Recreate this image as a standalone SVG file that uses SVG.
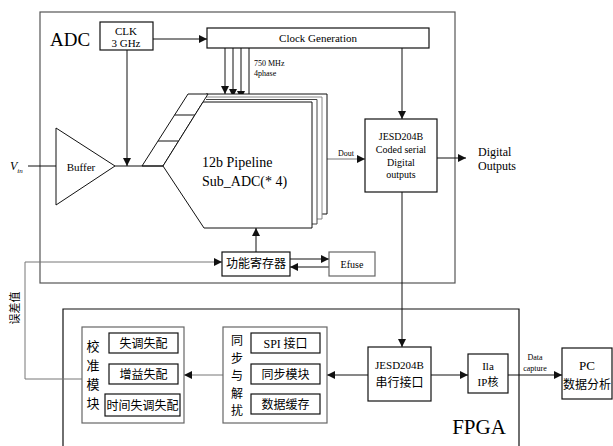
<svg xmlns="http://www.w3.org/2000/svg" width="613" height="446" viewBox="0 0 613 446">
<style>
.box{fill:#fff;stroke:#111;stroke-width:1.2}
.gbox{fill:#fff;stroke:#666;stroke-width:1.2}
.ln{fill:none;stroke:#111;stroke-width:1}
.gln{fill:none;stroke:#777;stroke-width:1}
.t{font-family:"Liberation Serif","Noto Sans CJK SC",serif;fill:#000;text-anchor:middle}
.c{font-family:"Noto Sans CJK SC","Liberation Serif",sans-serif;fill:#000;text-anchor:middle}
</style>
<defs>
<marker id="arr" viewBox="0 0 10 10" refX="10" refY="5" markerWidth="9" markerHeight="8" markerUnits="userSpaceOnUse" orient="auto">
<path d="M0,0 L10,5 L0,10 z" fill="#111"/>
</marker>
</defs>
<rect width="613" height="446" fill="#fff"/>

<g id="adc">
<rect x="40" y="12" width="415" height="271" fill="none" stroke="#555" stroke-width="1.2"/>
<text class="t" x="50" y="46" font-size="19" style="text-anchor:start">ADC</text>
</g>
<g id="fpga">
<path d="M63,446 V309 H519 V446" fill="none" stroke="#111" stroke-width="1.2"/>
<text class="t" x="479" y="434" font-size="21">FPGA</text>
</g>

<g id="connectors">
<path class="ln" d="M153,39 H207" marker-end="url(#arr)"/>
<path class="ln" d="M127,50 V166" marker-end="url(#arr)"/>
<path class="ln" d="M28,166 H56"/>
<path class="ln" d="M115,166 H140"/>
<path class="ln" d="M225,48 V94" marker-end="url(#arr)"/>
<path class="ln" d="M233,48 V97" marker-end="url(#arr)"/>
<path class="ln" d="M241,48 V99" marker-end="url(#arr)"/>
<path class="ln" d="M249,48 V102" marker-end="url(#arr)"/>
<path class="ln" d="M402,48 V119" marker-end="url(#arr)"/>
<path class="gln" d="M327,159 H365" marker-end="url(#arr)"/>
<path class="ln" d="M437,158 H466" marker-end="url(#arr)"/>
<path class="ln" d="M402,192 V347" marker-end="url(#arr)"/>
<path class="ln" d="M256,252 V228" marker-end="url(#arr)"/>
<path class="ln" d="M290,259 H329" marker-end="url(#arr)"/>
<path class="ln" d="M329,267 H290" marker-end="url(#arr)"/>
<path class="gln" d="M82,379 H25 V262 H222" marker-end="url(#arr)"/>
<path class="gln" d="M223,375 H184" marker-end="url(#arr)"/>
<path class="ln" d="M368,375 H327" marker-end="url(#arr)"/>
<path class="ln" d="M431,375 H468" marker-end="url(#arr)"/>
<path class="ln" d="M508,375 H562" marker-end="url(#arr)"/>
</g>

<g id="clk">
<rect class="box" x="100" y="22" width="53" height="28"/>
<text class="t" x="126" y="35" font-size="11">CLK</text>
<text class="t" x="126" y="47" font-size="11">3 GHz</text>
</g>
<g id="clockgen">
<rect class="box" x="207" y="28" width="222" height="20"/>
<text class="t" x="318" y="42" font-size="11">Clock Generation</text>
<text class="t" x="254" y="66" font-size="8" style="text-anchor:start">750 MHz</text>
<text class="t" x="254" y="76" font-size="8" style="text-anchor:start">4phase</text>
</g>
<g id="buffer">
<polygon points="56,128 115,166 56,205" fill="#fff" stroke="#111" stroke-width="1"/>
<text class="t" x="81" y="171" font-size="11">Buffer</text>
<text x="10" y="170" font-family="Liberation Serif,serif" font-style="italic" font-size="12" fill="#000">V<tspan font-size="7" dy="3">in</tspan></text>
</g>
<g id="pipeline">
<path d="M206,94 H327 V214 H206" fill="#fff" stroke="#111" stroke-width="1"/>
<path d="M206,97 H322 V219 H206" fill="#fff" stroke="#888" stroke-width="1"/>
<path d="M206,99.5 H317 V224 H206" fill="#fff" stroke="#444" stroke-width="1"/>
<polygon points="142,166 188,94 208,94 163,166" fill="#fff" stroke="#111" stroke-width="1"/>
<path class="ln" d="M174.6,115 H194.6 M158,141 H178"/>
<path class="ln" d="M140,166 H163"/>
<polygon points="163,166 203,102 312,102 312,228 204,228" fill="#fff" stroke="#111" stroke-width="1"/>
<text class="t" x="202" y="167" font-size="14" style="text-anchor:start">12b Pipeline</text>
<text class="t" x="202" y="186" font-size="14" style="text-anchor:start">Sub_ADC(* 4)</text>
<text class="t" x="346" y="156" font-size="8">Dout</text>
</g>
<g id="jesd-adc">
<rect class="box" x="365" y="119" width="72" height="73"/>
<text class="t" x="401" y="140" font-size="10">JESD204B</text>
<text class="t" x="401" y="153" font-size="10">Coded serial</text>
<text class="t" x="401" y="166" font-size="10">Digital</text>
<text class="t" x="401" y="178" font-size="10">outputs</text>
</g>
<g id="digital-outputs">
<text class="t" x="478" y="156" font-size="12" style="text-anchor:start">Digital</text>
<text class="t" x="478" y="170" font-size="12" style="text-anchor:start">Outputs</text>
</g>
<g id="funcreg">
<rect class="box" x="222" y="252" width="68" height="24"/>
<text class="c" x="256" y="268" font-size="12">功能寄存器</text>
</g>
<g id="efuse">
<rect class="gbox" x="329" y="252" width="46" height="24"/>
<text class="t" x="352" y="268" font-size="10">Efuse</text>
</g>
<g id="error-label">
<text class="c" x="0" y="0" font-size="11" transform="translate(19,308) rotate(-90)">误差值</text>
</g>
<g id="calib">
<rect class="gbox" x="82" y="327" width="102" height="96"/>
<text class="c" x="93" y="351" font-size="13">校</text>
<text class="c" x="93" y="370" font-size="13">准</text>
<text class="c" x="93" y="389" font-size="13">模</text>
<text class="c" x="93" y="408" font-size="13">块</text>
<rect class="box" x="109" y="333" width="69" height="20"/>
<text class="c" x="143.5" y="347.5" font-size="12">失调失配</text>
<rect class="box" x="109" y="364" width="69" height="20"/>
<text class="c" x="143.5" y="378.5" font-size="12">增益失配</text>
<rect class="box" x="105" y="394" width="75" height="22"/>
<text class="c" x="142.5" y="409.5" font-size="12">时间失调失配</text>
</g>
<g id="sync">
<rect class="gbox" x="223" y="327" width="104" height="96"/>
<text class="c" x="237" y="345" font-size="12">同</text>
<text class="c" x="237" y="362.5" font-size="12">步</text>
<text class="c" x="237" y="380" font-size="12">与</text>
<text class="c" x="237" y="397.5" font-size="12">解</text>
<text class="c" x="237" y="415" font-size="12">扰</text>
<rect class="box" x="251" y="333" width="69" height="20"/>
<text class="c" x="285.5" y="347.5" font-size="12"><tspan font-family="Liberation Serif,serif">SPI</tspan> 接口</text>
<rect class="box" x="251" y="364" width="69" height="20"/>
<text class="c" x="285.5" y="378.5" font-size="12">同步模块</text>
<rect class="box" x="251" y="394" width="69" height="20"/>
<text class="c" x="285.5" y="408.5" font-size="12">数据缓存</text>
</g>
<g id="jesd-fpga">
<rect class="box" x="368" y="347" width="63" height="54"/>
<text class="t" x="399.5" y="369" font-size="11">JESD204B</text>
<text class="c" x="399.5" y="387" font-size="12">串行接口</text>
</g>
<g id="ila">
<rect class="box" x="468" y="354" width="40" height="39"/>
<text class="t" x="488" y="370" font-size="11">Ila</text>
<text class="t" x="488" y="386" font-size="11">IP<tspan font-family="Noto Sans CJK SC,sans-serif">核</tspan></text>
<text class="t" x="535" y="360" font-size="8">Data</text>
<text class="t" x="535" y="371" font-size="8">capture</text>
</g>
<g id="pc">
<rect class="box" x="562" y="348" width="50" height="51"/>
<text class="t" x="587" y="370" font-size="13">PC</text>
<text class="c" x="587" y="389" font-size="12">数据分析</text>
</g>
</svg>
